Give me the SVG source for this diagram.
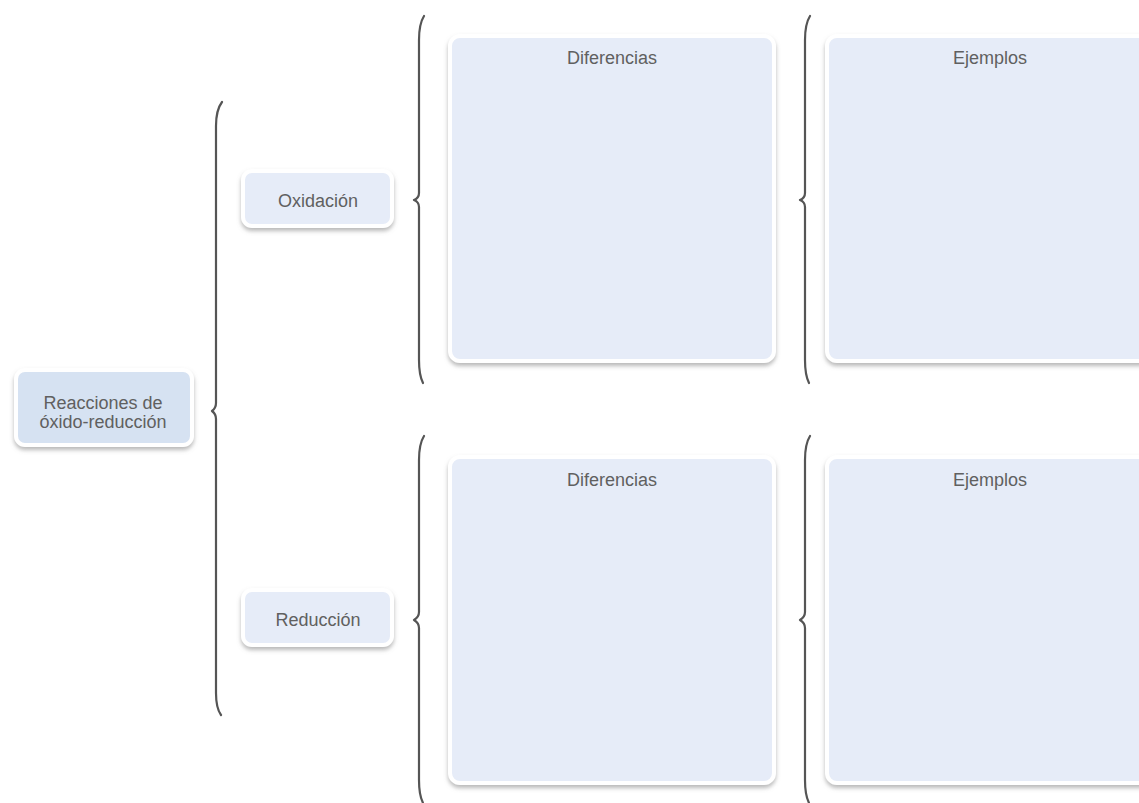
<svg xmlns="http://www.w3.org/2000/svg" width="1139" height="803" viewBox="0 0 1139 803">
  <defs>
    <filter id="shadow" x="-10%" y="-10%" width="120%" height="130%">
      <feDropShadow dx="0" dy="3" stdDeviation="2" flood-color="#8a8a8a" flood-opacity="0.6"/>
    </filter>
    <style>
      .box { fill: #e6ecf8; stroke: #ffffff; stroke-width: 4; filter: url(#shadow); }
      .root { fill: #d6e2f2; }
      .label { font-family: "Liberation Sans", Arial, sans-serif; font-size: 18px; fill: #606060; text-anchor: middle; }
      .brace { fill: none; stroke: #555555; stroke-width: 2.2; stroke-linecap: round; stroke-linejoin: round; }
    </style>
  </defs>
  <rect width="1139" height="803" fill="#ffffff"/>

  <!-- braces -->
  <g id="connectors">
    <path class="brace" d="M222,102 Q216,110 216,126 L216,403 Q216,408 212,411 Q216,414 216,419 L216,693 Q216,708 221,715"/>
    <path class="brace" d="M424,16 Q419,24 419,40 L419,193 Q419,198 414,200 Q419,202 419,207 L419,360 Q419,375 423,383"/>
    <path class="brace" d="M424,436 Q419,444 419,460 L419,612 Q419,617 414,620 Q419,623 419,628 L419,780 Q419,795 423,803"/>
    <path class="brace" d="M810,16 Q805,24 805,40 L805,193 Q805,198 800,200 Q805,202 805,207 L805,360 Q805,375 809,383"/>
    <path class="brace" d="M810,436 Q805,444 805,460 L805,612 Q805,617 800,620 Q805,623 805,628 L805,780 Q805,795 809,803"/>
  </g>

  <g id="node-root">
    <rect class="box root" x="16" y="370" width="176" height="75" rx="9"/>
    <text class="label" x="103" y="409">Reacciones de</text>
    <text class="label" x="103" y="428">óxido-reducción</text>
  </g>

  <g id="node-oxidacion">
    <rect class="box" x="243" y="171" width="149" height="55" rx="9"/>
    <text class="label" x="318" y="207">Oxidación</text>
  </g>

  <g id="node-reduccion">
    <rect class="box" x="243" y="590" width="149" height="55" rx="9"/>
    <text class="label" x="318" y="626">Reducción</text>
  </g>

  <g id="node-diferencias-ox">
    <rect class="box" x="450" y="36" width="324" height="325" rx="10"/>
    <text class="label" x="612" y="64">Diferencias</text>
  </g>

  <g id="node-ejemplos-ox">
    <rect class="box" x="827" y="36" width="330" height="325" rx="10"/>
    <text class="label" x="990" y="64">Ejemplos</text>
  </g>

  <g id="node-diferencias-red">
    <rect class="box" x="450" y="457" width="324" height="326" rx="10"/>
    <text class="label" x="612" y="486">Diferencias</text>
  </g>

  <g id="node-ejemplos-red">
    <rect class="box" x="827" y="457" width="330" height="326" rx="10"/>
    <text class="label" x="990" y="486">Ejemplos</text>
  </g>
</svg>
